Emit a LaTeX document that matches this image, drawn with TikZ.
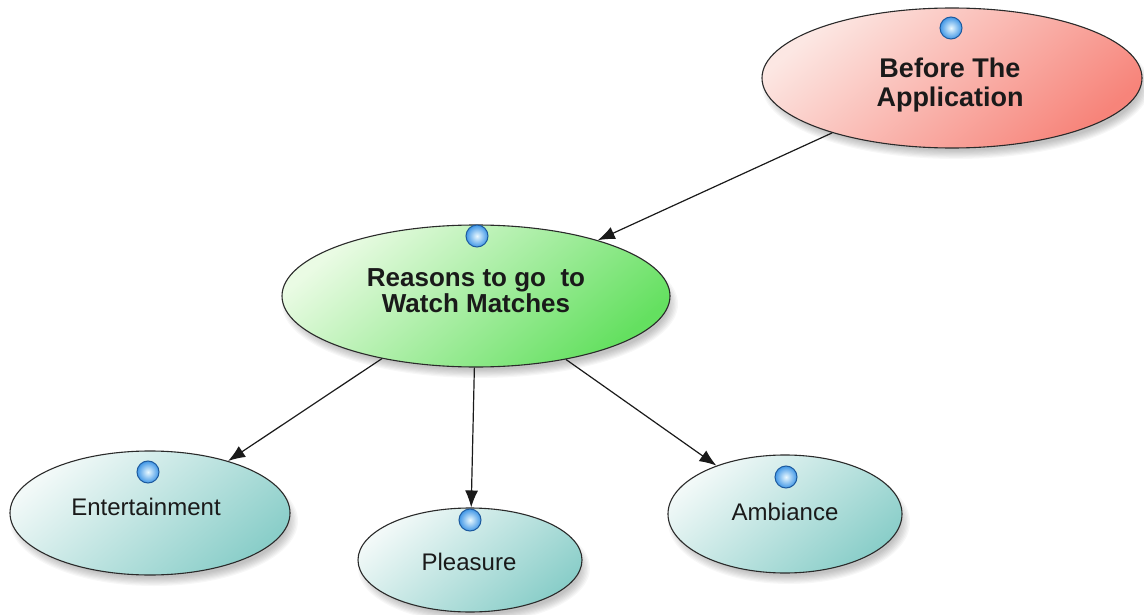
\documentclass[tikz,border=0pt]{standalone}
\usepackage{fontspec}
\setmainfont{Liberation Sans}
\usetikzlibrary{shapes.geometric,arrows.meta}

\definecolor{redlight}{HTML}{FCE7E3}
\definecolor{reddark}{HTML}{F7847A}
\definecolor{greenlight}{HTML}{EAFBE4}
\definecolor{greendark}{HTML}{64E060}
\definecolor{teallight}{HTML}{F2F9F8}
\definecolor{tealdark}{HTML}{8ACEC9}
\definecolor{rim}{HTML}{2A2A2A}
\definecolor{ink}{HTML}{1A1A1A}
\definecolor{ballrim}{HTML}{1D5A9E}
\definecolor{ballmid}{HTML}{3F96E6}
\definecolor{ballcore}{HTML}{EAF9FF}

\tikzset{
  bubble/.style={ellipse, draw=rim, line width=1.1pt, inner sep=0pt,
    shading=axis},
  redfill/.style={top color=redlight, bottom color=reddark, shading angle=40},
  greenfill/.style={top color=greenlight, bottom color=greendark, shading angle=40},
  tealfill/.style={top color=teallight, bottom color=tealdark, shading angle=40},
  knob/.style={circle, draw=ballrim, line width=1pt, minimum size=22pt,
    inner sep=0pt, inner color=ballcore, outer color=ballmid},
  title/.style={align=center, text=ink, inner sep=0pt,
    font=\fontsize{27}{29}\selectfont\bfseries},
  subtitle/.style={align=center, text=ink, inner sep=0pt,
    font=\fontsize{26}{26}\selectfont\bfseries},
  leaf/.style={text=ink, inner sep=0pt, anchor=base,
    font=\fontsize{24}{26}\selectfont},
  link/.style={draw=ink, line width=1.2pt, -{Latex[length=17pt,width=13pt]}},
}

% soft grey shadow under an ellipse: centre x, centre y, rx, ry
\newcommand{\softshade}[4]{%
  \foreach \k in {0,...,7}{%
    \fill[black, opacity=0.03] (#1+4,#2-8) ellipse ({#3+4-\k*1.4} and {#4+3-\k*1.2});
  }%
}

\begin{document}
\begin{tikzpicture}[x=1pt,y=1pt]
\useasboundingbox (0,0) rectangle (1144,-615);
\fill[white] (0,0) rectangle (1144,-615);

% shadows
\softshade{952}{-78}{190}{70}
\softshade{476}{-296}{194}{71}
\softshade{150}{-513}{140}{62}
\softshade{470}{-560}{112}{52}
\softshade{785}{-514}{117}{59}

% bubbles
\node[bubble, redfill, minimum width=380pt, minimum height=140pt] (before) at (952,-78) {};
\node[bubble, greenfill, minimum width=388pt, minimum height=142pt] (reasons) at (476,-296) {};
\node[bubble, tealfill, minimum width=280pt, minimum height=124pt] (enter) at (150,-513) {};
\node[bubble, tealfill, minimum width=224pt, minimum height=104pt] (pleas) at (470,-560) {};
\node[bubble, tealfill, minimum width=234pt, minimum height=118pt] (amb) at (785,-514) {};

% markers
\node[knob] (before-k) at (951,-28) {};
\node[knob] (reasons-k) at (477,-236) {};
\node[knob] (enter-k) at (148,-472) {};
\node[knob] (pleas-k) at (470,-520) {};
\node[knob] (amb-k) at (786,-477) {};

% labels
\node[title] (before-t) at (950,-85) {Before The\\Application};
\node[subtitle] (reasons-t) at (476,-290.5) {Reasons to go \ to\\Watch Matches};
\node[leaf] (enter-t) at (146,-515) {Entertainment};
\node[leaf] (pleas-t) at (469,-570) {Pleasure};
\node[leaf] (amb-t) at (785,-520) {Ambiance};

% connectors
\draw[link] (before) -- (reasons);
\draw[link] (reasons) -- (enter);
\draw[link] (reasons) -- (pleas);
\draw[link] (reasons) -- (amb);
\end{tikzpicture}
\end{document}
